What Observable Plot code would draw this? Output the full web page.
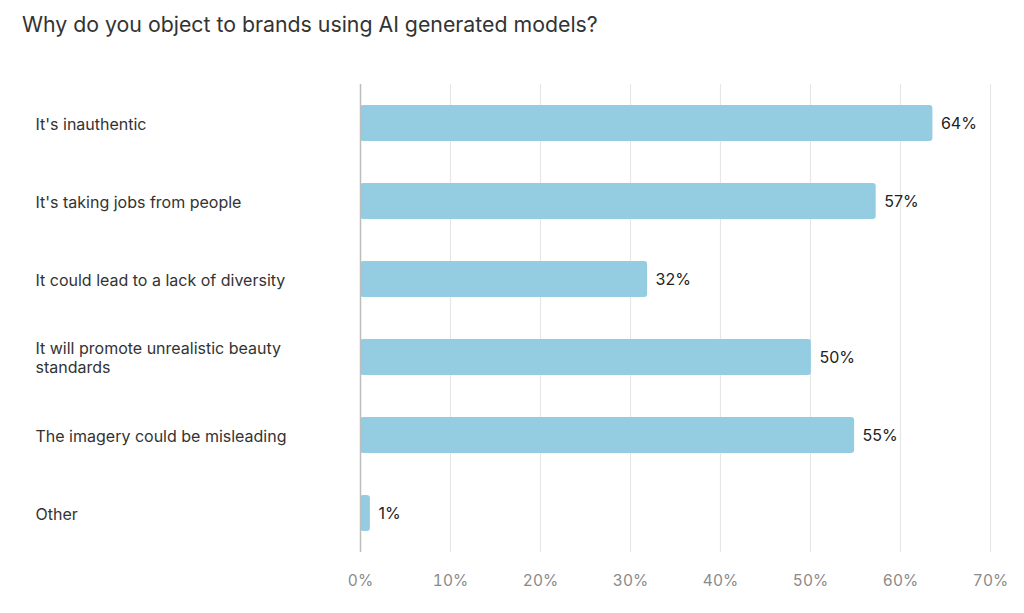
<!DOCTYPE html>
<html>
<head>
<meta charset="utf-8">
<script src="https://cdn.jsdelivr.net/npm/d3@7"></script>
<script src="https://cdn.jsdelivr.net/npm/@observablehq/plot@0.6"></script>
<style>
  html, body { margin: 0; padding: 0; background: #fff; }
  body { width: 1024px; height: 613px; overflow: hidden; font-family: Inter, "Noto Sans", sans-serif; }
  #title { height: 50px; line-height: 48px; padding-left: 22px; font-size: 21.3px; color: #333; }
</style>
</head>
<body>
<div id="title">Why do you object to brands using AI generated models?</div>
<div id="chart"></div>
<script>
const categories = [
  "It's inauthentic",
  "It's taking jobs from people",
  "It could lead to a lack of diversity",
  "It will promote unrealistic beauty\nstandards",
  "The imagery could be misleading",
  "Other"
];
const values = [63.6, 57.3, 31.9, 50.1, 54.9, 1.1];
const valueLabels = ["64%", "57%", "32%", "50%", "55%", "1%"];
const xTicks = [0, 10, 20, 30, 40, 50, 60, 70];

const data = categories.map((c, i) => ({category: c, value: values[i], label: valueLabels[i]}));

const chart = Plot.plot({
  width: 1024,
  height: 563,
  marginTop: 34,
  marginBottom: 61,
  marginLeft: 360,
  marginRight: 34,
  style: {fontFamily: "Inter, 'Noto Sans', sans-serif", fontSize: "15px", color: "#333", background: "#fff"},
  x: {domain: [0, 70], ticks: xTicks, tickFormat: d => d + "%", label: null, tickSize: 0, tickPadding: 22},
  y: {domain: categories, paddingInner: 0.54, paddingOuter: 0.27, axis: null},
  marks: [
    Plot.gridX(xTicks.filter(d => d > 0), {stroke: "#e6e6e6", strokeOpacity: 1, strokeWidth: 1.2}),
    Plot.axisX({ticks: xTicks, tickFormat: d => d + "%", tickSize: 0, tickPadding: 22, label: null, fill: "#8a8a8a", fontSize: 15.5}),
    Plot.barX(data, {x: "value", y: "category", fill: "#94cde2", rx: 3}),
    Plot.ruleX([0], {stroke: "#bdbdbd", strokeWidth: 1.5}),
    Plot.text(data, {x: "value", y: "category", text: "label", textAnchor: "start", dx: 8, fill: "#222", fontSize: 16}),
    Plot.text(data, {y: "category", text: "category", frameAnchor: "left", textAnchor: "start", dx: -325, fill: "#333", fontSize: 16, lineHeight: 1.2})
  ]
});
document.getElementById("chart").appendChild(chart);
</script>
</body>
</html>
